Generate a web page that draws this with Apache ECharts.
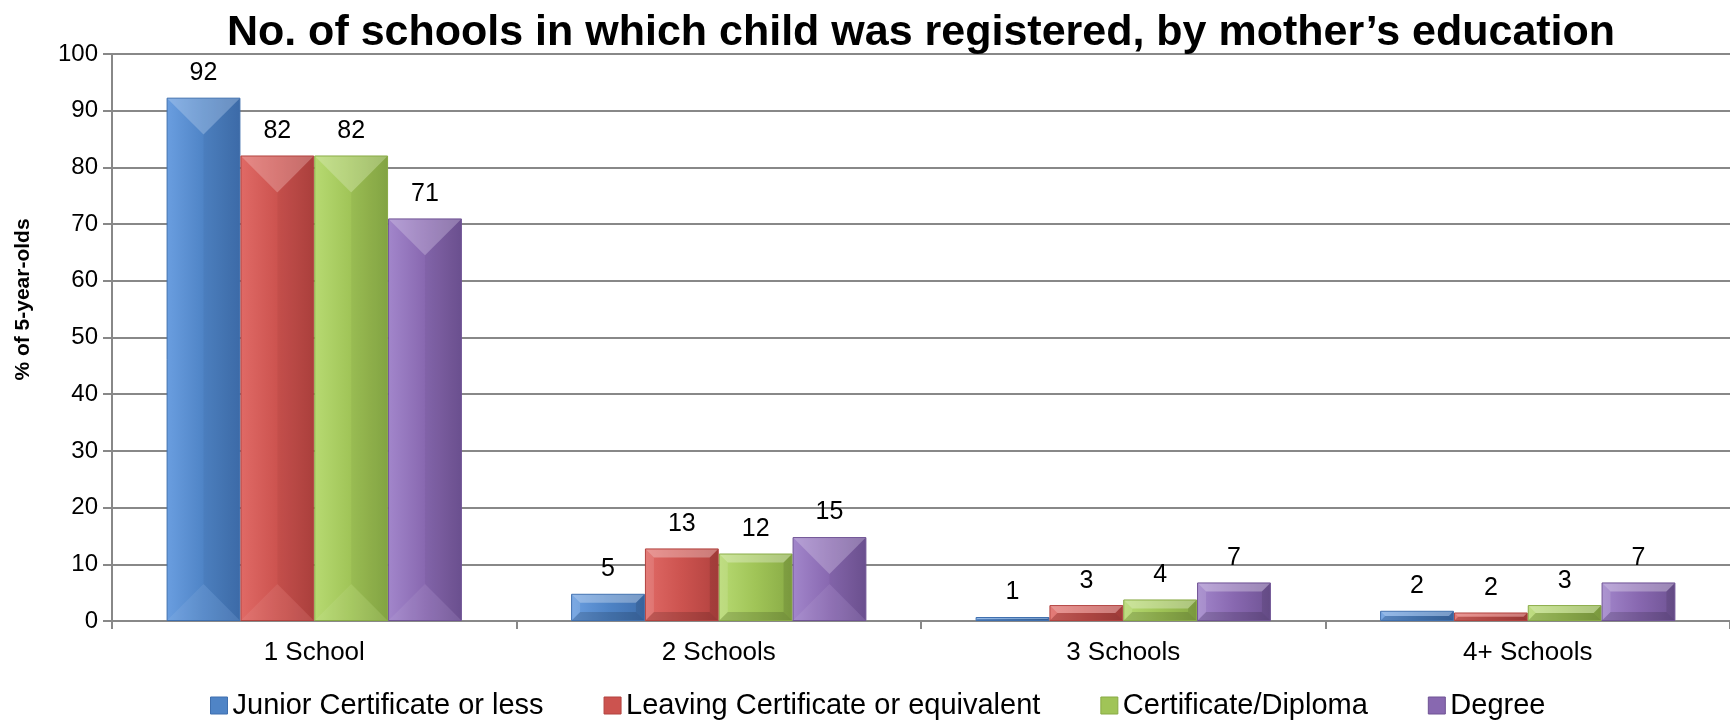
<!DOCTYPE html>
<html><head><meta charset="utf-8">
<script src="https://cdn.jsdelivr.net/npm/echarts@6/dist/echarts.min.js"></script>
<style>html,body{margin:0;padding:0;background:#fff}#c{width:1730px;height:725px}</style>
</head><body><div id="c"></div>
<script>
var categories = ['1 School', '2 Schools', '3 Schools', '4+ Schools'];
var seriesNames = ['Junior Certificate or less', 'Leaving Certificate or equivalent', 'Certificate/Diploma', 'Degree'];
var juniorCert = [92.3, 4.8, 0.7, 1.8];
var leavingCert = [82.1, 12.8, 2.8, 1.5];
var certDiploma = [82.1, 11.9, 3.8, 2.8];
var degree = [71.0, 14.8, 6.8, 6.8];
var yTicks = [0, 10, 20, 30, 40, 50, 60, 70, 80, 90, 100];

var FONT = '"Liberation Sans", Arial, sans-serif';
var colors = [
  ['#6a9ee0', '#4f84c6', '#3f6fae'],
  ['#e06a66', '#cc534f', '#b2423f'],
  ['#b7da72', '#a0c457', '#88aa45'],
  ['#a286cb', '#8868b0', '#6f5394']
];
var allData = [juniorCert, leavingCert, certDiploma, degree];
var CAT_GAP = 0.27;

function bevelSeries(si) {
  var d = allData[si];
  return {
    type: 'custom', silent: true, z: 3,
    name: '_bevel' + si,
    data: d.map(function (v, ci) { return [ci, v]; }),
    renderItem: function (params, api) {
      var ci = api.value(0), v = api.value(1);
      var band = api.size([1, 0])[0];
      var bw = band * (1 - CAT_GAP) / 4;
      var c = api.coord([ci, v]);
      var base = api.coord([ci, 0]);
      var x0 = c[0] + (si - 2) * bw, x1 = x0 + bw, y0 = c[1], y1 = base[1];
      var h = y1 - y0, w = bw, xc = (x0 + x1) / 2;
      var kids = [];
      if (h > w) {
        var a = w / 2;
        kids.push({ type: 'polygon', shape: { points: [[x0 + 1, y0 + 1], [x1 - 1, y0 + 1], [xc, y0 + a]] }, style: { fill: 'rgba(255,255,255,0.22)' } });
        kids.push({ type: 'polygon', shape: { points: [[x0 + 1, y1 - 1], [x1 - 1, y1 - 1], [xc, y1 - a]] }, style: { fill: 'rgba(255,255,255,0.07)' } });
        kids.push({ type: 'polygon', shape: { points: [[x1 - 1, y0 + 1], [x1 - 1, y1 - 1], [xc, y1 - a], [xc, y0 + a]] }, style: { fill: 'rgba(0,0,0,0.04)' } });
      } else {
        var b = Math.min(9, h / 2);
        kids.push({ type: 'polygon', shape: { points: [[x0 + 1, y0 + 1], [x1 - 1, y0 + 1], [x1 - b, y0 + b], [x0 + b, y0 + b]] }, style: { fill: 'rgba(255,255,255,0.3)' } });
        kids.push({ type: 'polygon', shape: { points: [[x0 + 1, y1 - 1], [x1 - 1, y1 - 1], [x1 - b, y1 - b], [x0 + b, y1 - b]] }, style: { fill: 'rgba(0,0,0,0.15)' } });
        kids.push({ type: 'polygon', shape: { points: [[x1 - 1, y0 + 1], [x1 - 1, y1 - 1], [x1 - b, y1 - b], [x1 - b, y0 + b]] }, style: { fill: 'rgba(0,0,0,0.1)' } });
        kids.push({ type: 'polygon', shape: { points: [[x0 + 1, y0 + 1], [x0 + 1, y1 - 1], [x0 + b, y1 - b], [x0 + b, y0 + b]] }, style: { fill: 'rgba(255,255,255,0.12)' } });
      }
      return { type: 'group', children: kids };
    }
  };
}

var chart = echarts.init(document.getElementById('c'));
var series = allData.map(function (d, i) {
  return {
    name: seriesNames[i], type: 'bar', data: d,
    barGap: '0%', barCategoryGap: (CAT_GAP * 100) + '%',
    itemStyle: {
      color: new echarts.graphic.LinearGradient(0, 0, 1, 0, [
        { offset: 0, color: colors[i][0] }, { offset: 0.5, color: colors[i][1] }, { offset: 1, color: colors[i][2] }
      ]),
      borderColor: colors[i][2], borderWidth: 1
    },
    label: {
      show: true, position: 'top', distance: 12,
      fontFamily: FONT, fontSize: 25, color: '#000',
      formatter: function (p) { return Math.round(p.value); }
    }
  };
});
for (var s = 0; s < 4; s++) series.push(bevelSeries(s));

chart.setOption({
  animation: false,
  title: {
    text: 'No. of schools in which child was registered, by mother\u2019s education',
    left: 916, textAlign: 'center', top: 7,
    textStyle: { fontFamily: FONT, fontSize: 43, fontWeight: 'bold', color: '#000' }
  },
  legend: {
    bottom: 0, left: 205, itemWidth: 17, itemHeight: 17, itemGap: 60,
    textStyle: { fontFamily: FONT, fontSize: 29, color: '#000' },
    data: seriesNames.map(function (n, i) { return { name: n, icon: 'rect', itemStyle: { color: colors[i][1], borderColor: colors[i][2], borderWidth: 1 } }; })
  },
  grid: { left: 112, right: -14, top: 54, bottom: 104 },
  xAxis: {
    type: 'category', data: categories,
    axisLine: { lineStyle: { color: '#888', width: 2 } },
    axisTick: { show: true, length: 8, lineStyle: { color: '#888', width: 2 } },
    axisLabel: { fontFamily: FONT, fontSize: 26, color: '#000', margin: 19 }
  },
  yAxis: {
    type: 'value', min: yTicks[0], max: yTicks[yTicks.length - 1], interval: 10,
    name: '% of 5-year-olds', nameLocation: 'middle', nameGap: 78,
    nameTextStyle: { fontFamily: FONT, fontSize: 21, fontWeight: 'bold', color: '#000', padding: [0, 0, 0, 76] },
    axisLine: { show: true, lineStyle: { color: '#888', width: 2 } },
    axisTick: { show: true, length: 9, lineStyle: { color: '#888', width: 2 } },
    splitLine: { lineStyle: { color: '#888', width: 2 } },
    axisLabel: { fontFamily: FONT, fontSize: 24, color: '#000', margin: 14 }
  },
  series: series
});
</script></body></html>
